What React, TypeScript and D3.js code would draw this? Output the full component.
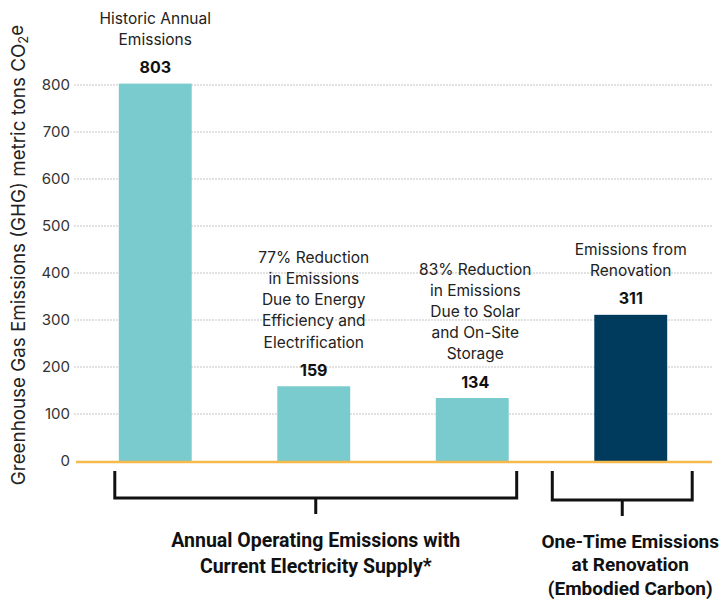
import React, { useRef, useEffect } from "react";
import * as d3 from "d3";

const categories = ["historic", "efficiency", "solar", "renovation"];
const values = [803, 159, 134, 311];
const barColors = ["#79cbcd", "#79cbcd", "#79cbcd", "#003a5d"];
const annotations = [
  ["Historic Annual", "Emissions"],
  ["77% Reduction", "in Emissions", "Due to Energy", "Efficiency and", "Electrification"],
  ["83% Reduction", "in Emissions", "Due to Solar", "and On-Site", "Storage"],
  ["Emissions from", "Renovation"],
];
const yTicks = [0, 100, 200, 300, 400, 500, 600, 700, 800];
const groups = [
  { from: "historic", to: "solar", label: ["Annual Operating Emissions with", "Current Electricity Supply*"] },
  { from: "renovation", to: "renovation", label: ["One-Time Emissions", "at Renovation", "(Embodied Carbon)"] },
];

const W = 722;
const H = 599;
const margin = { top: 85, right: 12, bottom: 138, left: 76 };

const App: React.FC = () => {
  const svgRef = useRef<SVGSVGElement | null>(null);

  useEffect(() => {
    const svg = d3.select(svgRef.current);
    svg.selectAll("*").remove();

    const x = d3
      .scaleBand()
      .domain(categories)
      .range([margin.left, W - margin.right])
      .paddingInner(0.54)
      .paddingOuter(0.27);

    const y = d3
      .scaleLinear()
      .domain([0, 800])
      .range([H - margin.bottom, margin.top]);

    // grid
    svg
      .append("g")
      .selectAll("line")
      .data(yTicks.slice(1))
      .enter()
      .append("line")
      .attr("x1", margin.left - 2)
      .attr("x2", W - 10)
      .attr("y1", (d) => y(d))
      .attr("y2", (d) => y(d))
      .attr("stroke", "#d9d9d9")
      .attr("stroke-width", 1.5)
      .attr("stroke-dasharray", "2,1");

    // tick labels
    svg
      .append("g")
      .selectAll("text")
      .data(yTicks)
      .enter()
      .append("text")
      .attr("x", 70)
      .attr("y", (d) => y(d))
      .attr("dy", "0.35em")
      .attr("text-anchor", "end")
      .attr("font-family", "Inter, sans-serif")
      .attr("font-size", 15)
      .attr("fill", "#333")
      .text((d) => d);

    // bars
    svg
      .append("g")
      .selectAll("rect")
      .data(values)
      .enter()
      .append("rect")
      .attr("x", (_, i) => x(categories[i])!)
      .attr("y", (d) => y(d))
      .attr("width", x.bandwidth())
      .attr("height", (d) => y(0) - y(d))
      .attr("fill", (_, i) => barColors[i]);

    // baseline
    svg
      .append("line")
      .attr("x1", margin.left)
      .attr("x2", W - 10)
      .attr("y1", y(0) + 1)
      .attr("y2", y(0) + 1)
      .attr("stroke", "#f6b94c")
      .attr("stroke-width", 2.5);

    // value labels + annotations
    values.forEach((v, i) => {
      const cx = x(categories[i])! + x.bandwidth() / 2 + (i === 2 ? 3 : 0);
      const vy = y(v) - 16;
      svg
        .append("text")
        .attr("x", cx)
        .attr("y", vy)
        .attr("dy", "0.35em")
        .attr("text-anchor", "middle")
        .attr("font-family", "Inter, sans-serif")
        .attr("font-weight", 700)
        .attr("font-size", 16)
        .attr("fill", "#111")
        .text(v);
      const lines = annotations[i];
      const t = svg
        .append("text")
        .attr("text-anchor", "middle")
        .attr("font-family", "Inter, sans-serif")
        .attr("font-size", 15.5)
        .attr("fill", "#222");
      lines.forEach((ln, j) => {
        t.append("tspan")
          .attr("x", cx)
          .attr("y", vy - 28 - (lines.length - 1 - j) * 21.2)
          .attr("dy", "0.35em")
          .text(ln);
      });
    });

    // brackets
    const bTop = y(0) + 10;
    groups.forEach((g, gi) => {
      const x0 = x(g.from)! - (gi === 0 ? 4 : 42);
      const x1 = x(g.to)! + x.bandwidth() + (gi === 0 ? 8 : 25);
      const bBot = bTop + (gi === 0 ? 27 : 29);
      const cx = (x0 + x1) / 2;
      svg
        .append("path")
        .attr("d", `M${x0},${bTop}V${bBot}H${x1}V${bTop}M${cx},${bBot}V${bBot + 16}`)
        .attr("fill", "none")
        .attr("stroke", "#111")
        .attr("stroke-width", 3);
      const t = svg
        .append("text")
        .attr("text-anchor", "middle")
        .attr("font-family", "Roboto, sans-serif")
        .attr("font-weight", 700)
        .attr("font-size", gi === 0 ? 19.5 : 19)
        .attr("fill", "#111");
      g.label.forEach((ln, j) => {
        t.append("tspan")
          .attr("x", gi === 0 ? cx : cx + 8)
          .attr("y", gi === 0 ? 540 + j * 26 : 541 + j * 23.8)
          .attr("dy", "0.35em")
          .text(ln);
      });
    });

    // y axis title
    const yt = svg
      .append("text")
      .attr("transform", `translate(18, ${255}) rotate(-90)`)
      .attr("text-anchor", "middle")
      .attr("dy", "0.35em")
      .attr("font-family", "Inter, sans-serif")
      .attr("font-size", 18.8)
      .attr("fill", "#222");
    yt.append("tspan").text("Greenhouse Gas Emissions (GHG) metric tons CO");
    yt.append("tspan").attr("font-size", 13).attr("dy", "0.3em").text("2");
    yt.append("tspan").attr("dy", "-0.3em").text("e");
  }, []);

  return (
    <svg
      ref={svgRef}
      width={W}
      height={H}
      style={{ position: "absolute", left: 0, top: 0, background: "#fff" }}
    />
  );
};

export default App;
